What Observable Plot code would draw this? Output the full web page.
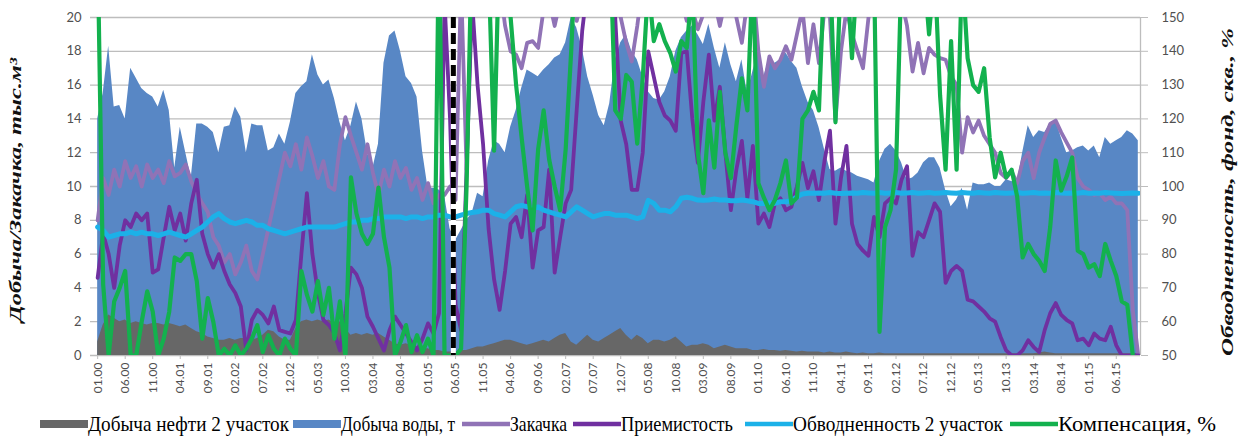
<!DOCTYPE html>
<html><head><meta charset="utf-8">
<script src="https://cdn.jsdelivr.net/npm/d3@7"></script>
<script src="https://cdn.jsdelivr.net/npm/@observablehq/plot@0.6"></script>
<style>
body{margin:0;background:#fff;}
#chart{position:relative;width:1242px;height:437px;overflow:hidden;background:#fff;}
#chart svg{position:absolute;left:0;top:0;}
</style></head><body><div id="chart"></div>
<script>
// monthly series, index 0 = 01.2000
const oil = [0.8,1.8,2.4,2.2,2.0,2.1,1.9,2.0,1.9,1.8, 1.9,1.9,1.8,1.9,1.8,1.7,1.8,1.6,1.4,1.3,
 1.1,1.0,0.9,0.9,1.0,0.9,1.0,1.0,0.9,1.0, 1.2,1.5,1.4,1.1,0.9,0.9,1.6,2.0,2.1,2.0,
 2.1,2.0,2.1,1.9,2.0,1.6,1.2,1.3,1.2,1.3, 1.2,1.3,1.1,0.9,0.7,0.6,0.7,0.6,0.5,0.4,
 0.4,0.3,0.3,0.2,0.2,0.2,0.3,0.3,0.4,0.5, 0.5,0.6,0.7,0.8,0.9,0.9,0.8,0.7,0.6,0.7,
 0.8,0.9,0.8,1.0,1.2,1.3,0.8,0.6,0.9,1.2, 0.9,0.8,1.0,1.2,1.4,1.6,1.2,0.9,1.2,1.0,
 0.7,0.9,0.9,0.8,0.9,1.1,0.8,0.5,0.6,0.6, 0.7,0.6,0.4,0.5,0.6,0.5,0.4,0.4,0.4,0.3,
 0.3,0.35,0.3,0.3,0.25,0.3,0.25,0.2,0.25,0.2, 0.2,0.2,0.15,0.2,0.15,0.15,0.2,0.15,0.1,0.15,
 0.1,0.1,0.15,0.1,0.1,0.1,0.1,0.1,0.1,0.1, 0.1,0.1,0.1,0.1,0.1,0.1,0.1,0.1,0.1,0.1,
 0.1,0.1,0.1,0.1,0.1,0.1,0.1,0.1,0.1,0.1, 0.1,0.15,0.2,0.15,0.1,0.1,0.1,0.1,0.1,0.1,
 0.1,0.1,0.1,0.1,0.1,0.1,0.1,0.1,0.1,0.1];
const water = [14.0,15.5,18.3,14.7,14.8,14.0,17.0,16.4,15.8,15.5, 15.3,14.7,15.7,14.5,11.1,13.5,12.0,10.5,13.7,13.7,
 13.5,13.2,12.0,13.5,13.6,14.7,14.1,12.0,13.7,13.6, 13.6,12.1,12.3,13.1,12.5,13.8,15.5,15.9,16.2,17.8,
 16.6,16.0,16.3,15.2,13.8,12.7,13.6,15.0,14.0,12.0, 11.1,12.5,17.3,18.9,19.2,18.0,16.5,16.1,15.3,12.1,
 9.9,9.9,9.8,9.5,7.5,6.8,7.4,8.0,8.4,9.6, 9.4,11.5,12.7,12.5,12.0,13.5,14.5,15.8,16.9,16.7,
 16.5,16.9,17.2,17.6,17.8,18.5,20.0,19.4,18.2,16.5, 15.4,14.2,13.6,14.9,17.5,18.5,19.0,18.0,17.5,16.5,
 15.6,15.2,15.1,15.6,16.5,18.0,18.8,19.2,19.5,19.0, 18.4,19.6,18.2,17.0,18.5,17.2,16.2,17.5,15.5,16.8,
 18.0,16.5,17.6,17.3,17.5,17.9,17.4,17.0,15.9,15.0, 14.5,13.5,12.2,11.0,10.9,11.1,10.9,10.8,10.6,10.5,
 10.4,10.2,11.5,12.2,12.5,12.1,11.4,10.4,10.5,10.8, 11.4,11.7,11.7,11.1,9.8,8.8,9.2,9.9,8.6,10.2,
 10.1,10.1,10.2,10.0,10.0,10.4,10.3,10.2,12.0,13.6, 12.9,13.3,13.2,13.7,13.9,12.9,12.0,12.1,12.3,12.4,
 12.1,12.4,11.7,12.9,12.5,12.7,12.9,13.3,13.1,12.7];
const injection = [8.0,10.5,9.5,11.0,10.0,11.5,10.5,11.2,10.0,11.3, 10.5,11.0,10.2,11.5,10.6,10.8,11.3,10.3,9.6,9.0,
 8.5,7.0,6.5,5.5,6.0,4.8,5.5,6.5,5.0,4.5, 6.0,7.5,9.0,10.5,12.0,11.2,12.5,11.0,12.9,11.8,
 10.5,11.5,10.0,9.8,12.5,14.1,13.0,12.0,11.0,12.5, 10.8,9.5,11.0,10.0,11.5,10.5,11.1,9.8,10.5,9.2,
 10.2,9.0,9.5,9.5,10.0,9.2,22,11.0,22,23, 24,22,21,22,19.5,18.0,17.8,17.0,18.5,18.6,
 18.2,20.5,21,19.5,21,20.5,22,19.8,21,22, 23,22,23,24,22,20,18.5,17.4,19.5,22,
 23,22,22,23,22,22,21,19.8,20.5,19.3, 20.2,22,21,19.5,21,23,20,18.5,21,22,
 18.0,15.9,17.7,17.0,17.5,18.3,17.5,19.0,20.5,17.3, 19.6,17.3,20.5,20,13.9,18,20.5,19,18,17,
 20,21,23,22,23,22,21,19.5,16.8,18.5, 16.7,18.2,17.8,17.6,17.5,16.5,16.0,12.0,14.1,13.2,
 13.9,13.0,12.5,12.0,10.8,10.5,10.9,10.2,11.5,12.0, 10.5,12.0,12.9,13.7,13.9,13.2,12.6,12.0,10.5,10.0,
 9.8,9.5,9.6,9.2,9.4,9.0,9.0,8.6,2.7,0];
const injectivity = [4.6,7.2,6.0,4.0,6.5,8.0,7.6,8.4,8.0,8.4, 4.9,5.1,7.0,8.8,7.4,8.4,6.8,9.0,10.4,7.2,
 6.0,5.2,6.0,5.0,4.2,3.7,2.9,0.3,2.1,2.7, 2.4,1.9,2.9,1.5,1.4,1.3,2.1,6.0,9.6,6.0,
 3.7,2.1,1.8,1.3,0.3,2.5,5.2,4.8,4.0,2.3, 1.7,1.0,0.3,1.5,2.3,1.8,1.3,0.8,0.3,1.0,
 1.9,1.3,2.5,21,14,3.0,1.5,11,21,16, 12.5,7.5,4.5,2.7,5.0,7.8,8.2,7.0,9.5,5.2,
 7.4,7.6,11.0,4.9,7.0,9.0,9.8,14.5,19.2,22, 23,22,23,22,20,13.9,12.5,9.8,9.8,12.0,
 18.0,16.5,15.0,14.2,13.9,13.3,17.9,18.0,14.0,11.4, 15.0,17.8,13.9,15.9,12.0,8.6,11.0,12.7,9.3,12.4,
 7.8,8.4,7.6,9.0,9.3,8.6,8.8,10.0,11.4,9.9, 10.9,9.2,11.5,13.3,7.8,10.5,12.4,7.8,6.6,6.2,
 5.9,8.2,7.0,9.0,9.3,9.0,10.4,11.2,5.9,7.3, 7.0,8.0,9.0,8.5,4.3,5.0,5.3,5.0,3.3,3.2,
 2.9,2.6,2.2,2.0,1.1,0.3,0,0,0.3,0.9, 0.5,0.2,1.5,2.5,3.1,2.4,2.1,1.9,0.9,1.0,
 0.6,1.3,1.0,0.9,1.7,0.6,0,0,0,0];
const waterCut = [88,87,85,85.5,86,86,86.5,86,86.5,86, 86,85.5,86,86.5,86,85.5,85,86,87,88,
 89.5,91,92,90.5,89.5,89,89.5,90,89.5,88.5, 88.5,87.5,87,86.5,86,86.5,87,87.5,88,88,
 88,88,88,88,88.5,89,89.5,89.5,90,90, 90.5,90.5,91,91,91,91,90.5,91,91,90.5,
 91,91,91.5,91.5,91,91,91.5,92,92.3,92.5, 93,93,92,91.5,91,92.5,94,94.4,94,93.5,
 94,93,92.5,92,91.5,91,92.5,94,93,92, 91,91.5,92,92,91.5,91.5,91.5,91,90.5,91,
 95.9,95,93,93,92.5,94,96.5,96.8,96.5,96, 95.9,96,96.3,96,96,95.8,95.8,96,95.8,95.5,
 95,95,95.2,95,95.5,95.5,95.8,97,97.8,98, 98,98.1,98,98.2,98,97.9,98,98.1,98,98.2,
 98.1,98,98.2,98,98.1,98.2,98,98.1,98.2,98, 98.1,98.2,98,98.1,98.2,98.1,98,98.2,98.1,98,
 98.2,98.1,98,98.2,98.1,98,98.1,98.2,98,98.1, 98.2,98,98.1,98,98.2,98.1,98,98.1,98,98.2,
 98,98.1,98,98.2,98.1,98,97.9,98,98.1,98];
const compensation = [170,71,50,66,70,75,50,50,60,69, 63,50,55,63,79,78,80,80,72,55,
 67,60,50,52,50,53,50,52,55,59, 51,56,52,50,55,52,50,75,68,63,
 72,62,70,55,66,50,102.7,92,86,83, 86,99.7,85,76,50,54,59,51,56,51,
 55,50,175,50,50,50,52,100,175,175, 175,165,110.6,175,160,150,130,114.5,100,87,
 111,122.5,108,100,93,111,140,175,175,175, 175,175,175,175,122.5,120,133,131,112.7,132,
 160,143,148,143,139.5,134,143,141,160,110, 98,119.6,105.6,128,110,102.5,118,132,122.5,165,
 101,96.7,93,96,101,107.7,95,96.7,120,122.5, 128,122.5,165,165,119,165,165,138,165,165,
 165,165,57,88,93,105,165,165,165,165, 165,145,165,127,105,143,105,165,138,130,
 128,135,114.5,102.7,110,102.7,105,97,79,83, 80,78,75,88,107.7,98.8,103,108.6,81,80,
 76,77,73.5,83,78,73.5,66,65,50,48];

const xTickLabels = ["01.00","06.00","11.00","04.01","09.01","02.02","07.02","12.02","05.03","10.03",
 "03.04","08.04","01.05","06.05","11.05","04.06","09.06","02.07","07.07","12.07",
 "05.08","10.08","03.09","08.09","01.10","06.10","11.10","04.11","09.11","02.12",
 "07.12","12.12","05.13","10.13","03.14","08.14","01.15","06.15"];
const leftTicks = [0,2,4,6,8,10,12,14,16,18,20];
const rightTicks = [50,60,70,80,90,100,110,120,130,140,150];
const markerMonth = 64.6; // 05/06.2005 boundary
const legendLabels = ["Добыча нефти 2 участок","Добыча воды, т","Закачка","Приемистость","Обводненность 2 участок","Компенсация, %"];
const colors = {oil:"#676767", water:"#5887c5", inj:"#9073b6", rate:"#7030a0", wc:"#1cb1e8", comp:"#13b14e"};

const toLeft = v => (v - 50) / 5;
const data = oil.map((d, i) => ({
  i, oil: d, water: water[i], inj: injection[i], rate: injectivity[i],
  wc: toLeft(waterCut[i]), comp: toLeft(compensation[i])
}));
const xTicks = xTickLabels.map((_, k) => k * 5);

const plot = Plot.plot({
  width: 1242, height: 405,
  marginLeft: 90, marginRight: 102, marginTop: 17, marginBottom: 50,
  style: {fontFamily: "Lato, 'Liberation Sans', sans-serif", color: "#505050", background: "transparent", overflow: "visible"},
  x: {domain: [-1.3, 189.4]},
  y: {domain: [0, 20]},
  marks: [
    Plot.gridY(leftTicks, {stroke: "#bdbdbd", strokeOpacity: 1, strokeWidth: 1.3}),
    Plot.ruleX([189.4], {stroke: "#bdbdbd", strokeWidth: 1.3}),
    Plot.areaY(data, {x: "i", y: "water", fill: colors.water, clip: true}),
    Plot.areaY(data, {x: "i", y: "oil", fill: colors.oil, clip: true}),
    Plot.lineY(data, {x: "i", y: "inj", stroke: colors.inj, strokeWidth: 3.8, clip: true}),
    Plot.lineY(data, {x: "i", y: "rate", stroke: colors.rate, strokeWidth: 3.8, clip: true}),
    Plot.lineY(data, {x: "i", y: "wc", stroke: colors.wc, strokeWidth: 5, clip: true}),
    Plot.lineY(data, {x: "i", y: "comp", stroke: colors.comp, strokeWidth: 4.2, clip: true}),
    Plot.ruleX([markerMonth], {stroke: "white", strokeWidth: 5}),
    Plot.ruleX([markerMonth], {stroke: "black", strokeWidth: 5, strokeDasharray: "11,5"}),
    Plot.axisY(leftTicks, {anchor: "left", tickSize: 0, tickPadding: 9, fontSize: 13, label: null}),
    Plot.axisY(rightTicks.map(toLeft), {anchor: "right", tickSize: 7, tickPadding: 14, fontSize: 13, stroke: "#bdbdbd",
      tickFormat: d => String(Math.round(d * 5 + 50)), label: null}),
    Plot.axisX(xTicks, {anchor: "bottom", tickSize: 4, tickPadding: 3, tickRotate: -90, fontSize: 12, stroke: "#bdbdbd",
      tickFormat: d => xTickLabels[Math.round(d / 5)], label: null})
  ]
});
const chart = document.getElementById("chart");
chart.appendChild(plot);

// overlay: axis titles and legend
const ov = d3.select(chart).append("svg").attr("width", 1242).attr("height", 437).style("pointer-events", "none");
ov.append("text").attr("transform", "translate(21,190) rotate(-90)")
  .attr("text-anchor", "middle").attr("font-family", "'Liberation Serif', serif")
  .attr("font-style", "italic").attr("font-weight", "bold").attr("font-size", 16)
  .attr("textLength", 264).attr("lengthAdjust", "spacingAndGlyphs")
  .attr("fill", "#111").text("Добыча/Закачка, тыс.м³");
ov.append("text").attr("transform", "translate(1233,192) rotate(-90)")
  .attr("text-anchor", "middle").attr("font-family", "'Liberation Serif', serif")
  .attr("font-style", "italic").attr("font-weight", "bold").attr("font-size", 16)
  .attr("textLength", 328).attr("lengthAdjust", "spacingAndGlyphs")
  .attr("fill", "#111").text("Обводненность, фонд, скв., %");

const legColors = [colors.oil, colors.water, colors.inj, colors.rate, colors.wc, colors.comp];
const swX = [40, 293, 462, 573, 745, 1010];
const txX = [88, 341, 510, 621, 793, 1058];
const txW = [201, 114, 57, 112, 210, 158];
legendLabels.forEach((lab, k) => {
  if (k < 2) {
    ov.append("rect").attr("x", swX[k]).attr("y", 420).attr("width", 48).attr("height", 8).attr("fill", legColors[k]);
  } else {
    ov.append("line").attr("x1", swX[k]).attr("x2", swX[k] + 48).attr("y1", 424).attr("y2", 424)
      .attr("stroke", legColors[k]).attr("stroke-width", 4.5);
  }
  ov.append("text").attr("x", txX[k]).attr("y", 431).attr("font-family", "'Liberation Serif', serif")
    .attr("font-size", 21).attr("textLength", txW[k]).attr("lengthAdjust", "spacingAndGlyphs")
    .attr("fill", "#000").text(lab);
});
</script></body></html>
